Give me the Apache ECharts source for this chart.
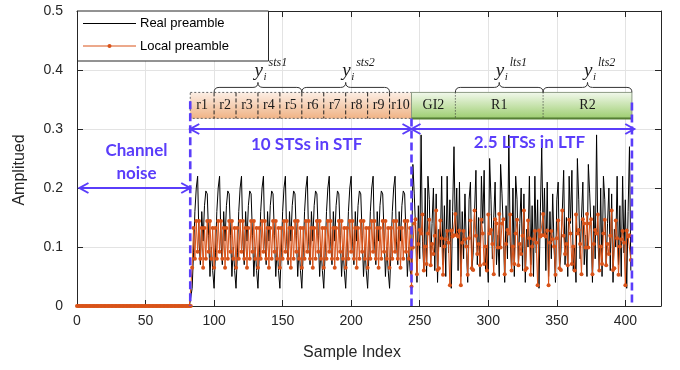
<!DOCTYPE html>
<html><head><meta charset="utf-8">
<script src="https://cdn.jsdelivr.net/npm/echarts@6/dist/echarts.min.js"></script>
<style>html,body{margin:0;padding:0;background:#fff}#c{width:680px;height:370px}</style>
</head><body><div id="c"></div>
<script>
// ---------- data ----------
const xTicks = [0, 50, 100, 150, 200, 250, 300, 350, 400];
const yTicks = [0, 0.1, 0.2, 0.3, 0.4, 0.5];
const seriesNames = ['Real preamble', 'Local preamble'];

const noiseStart = 0;
const noiseAmp = [
0,0,0,0,0,0,0,0,0,0, 0,0,0,0,0,0,0,0,0,0, 0,0,0,0,0,0,0,0,0,0, 0,0,0,0,0,0,0,0,0,0,
0,0,0,0,0,0,0,0,0,0, 0,0,0,0,0,0,0,0,0,0, 0,0,0,0,0,0,0,0,0,0, 0,0,0,0,0,0,0,0,0,0,
0,0,0,0];

const stsStart = 84;
const stsLocal = [
0.065,0.132,0.080,0.144,0.092,0.144,0.080,0.132,0.065,0.132,0.080,0.144,0.092,0.144,0.080,0.132,
0.065,0.132,0.080,0.144,0.092,0.144,0.080,0.132,0.065,0.132,0.080,0.144,0.092,0.144,0.080,0.132,
0.065,0.132,0.080,0.144,0.092,0.144,0.080,0.132,0.065,0.132,0.080,0.144,0.092,0.144,0.080,0.132,
0.065,0.132,0.080,0.144,0.092,0.144,0.080,0.132,0.065,0.132,0.080,0.144,0.092,0.144,0.080,0.132,
0.065,0.132,0.080,0.144,0.092,0.144,0.080,0.132,0.065,0.132,0.080,0.144,0.092,0.144,0.080,0.132,
0.065,0.132,0.080,0.144,0.092,0.144,0.080,0.132,0.065,0.132,0.080,0.144,0.092,0.144,0.080,0.132,
0.065,0.132,0.080,0.144,0.092,0.144,0.080,0.132,0.065,0.132,0.080,0.144,0.092,0.144,0.080,0.132,
0.065,0.132,0.080,0.144,0.092,0.144,0.080,0.132,0.065,0.132,0.080,0.144,0.092,0.144,0.080,0.132,
0.065,0.132,0.080,0.144,0.092,0.144,0.080,0.132,0.065,0.132,0.080,0.144,0.092,0.144,0.080,0.132,
0.065,0.132,0.080,0.144,0.092,0.144,0.080,0.132,0.065,0.132,0.080,0.144,0.092,0.144,0.080,0.132];
const stsReal = [
0.03,0.09,0.16,0.20,0.22,0.11,0.07,0.16,0.11,0.17,0.195,0.19,0.12,0.05,0.10,0.06,
0.03,0.09,0.16,0.20,0.22,0.11,0.07,0.16,0.11,0.17,0.195,0.19,0.12,0.05,0.10,0.06,
0.03,0.09,0.16,0.20,0.22,0.11,0.07,0.16,0.11,0.17,0.195,0.19,0.12,0.05,0.10,0.06,
0.03,0.09,0.16,0.20,0.22,0.11,0.07,0.16,0.11,0.17,0.195,0.19,0.12,0.05,0.10,0.06,
0.03,0.09,0.16,0.20,0.22,0.11,0.07,0.16,0.11,0.17,0.195,0.19,0.12,0.05,0.10,0.06,
0.03,0.09,0.16,0.20,0.22,0.11,0.07,0.16,0.11,0.17,0.195,0.19,0.12,0.05,0.10,0.06,
0.03,0.09,0.16,0.20,0.22,0.11,0.07,0.16,0.11,0.17,0.195,0.19,0.12,0.05,0.10,0.06,
0.03,0.09,0.16,0.20,0.22,0.11,0.07,0.16,0.11,0.17,0.195,0.19,0.12,0.05,0.10,0.06,
0.03,0.09,0.16,0.20,0.22,0.11,0.07,0.16,0.11,0.17,0.195,0.19,0.12,0.05,0.10,0.06,
0.03,0.09,0.16,0.20,0.22,0.11,0.07,0.16,0.11,0.17,0.195,0.19,0.12,0.05,0.10,0.06];

const ltsStart = 244;
const ltsLocal = [
0.033,0.099,0.140,0.147,0.054,0.105,0.129,0.123,0.155,0.060,0.101,0.071,0.123,0.146,0.069,0.105,
0.088,0.119,0.162,0.061,0.064,0.145,0.115,0.053,0.101,0.113,0.127,0.107,0.035,0.128,0.118,0.120,
0.156,0.120,0.118,0.128,0.035,0.107,0.127,0.113,0.101,0.053,0.115,0.145,0.064,0.061,0.162,0.119,
0.088,0.105,0.069,0.146,0.123,0.071,0.101,0.060,0.155,0.123,0.129,0.105,0.054,0.147,0.140,0.099,
0.156,0.099,0.140,0.147,0.054,0.105,0.129,0.123,0.155,0.060,0.101,0.071,0.123,0.146,0.069,0.105,
0.088,0.119,0.162,0.061,0.064,0.145,0.115,0.053,0.101,0.113,0.127,0.107,0.035,0.128,0.118,0.120,
0.156,0.120,0.118,0.128,0.035,0.107,0.127,0.113,0.101,0.053,0.115,0.145,0.064,0.061,0.162,0.119,
0.088,0.105,0.069,0.146,0.123,0.071,0.101,0.060,0.155,0.123,0.129,0.105,0.054,0.147,0.140,0.099,
0.156,0.099,0.140,0.147,0.054,0.105,0.129,0.123,0.155,0.060,0.101,0.071,0.123,0.146,0.069,0.105,
0.088,0.119,0.162,0.061,0.064,0.145,0.115,0.053,0.101,0.113,0.127,0.107,0.035,0.128,0.118,0.120,
0.078];
const ltsReal = [
0.05,0.24,0.19,0.13,0.04,0.17,0.08,0.29,0.11,0.06,0.20,0.05,0.22,0.18,0.07,0.14,
0.20,0.06,0.19,0.04,0.13,0.10,0.22,0.07,0.17,0.05,0.22,0.09,0.18,0.03,0.16,0.27,
0.12,0.20,0.06,0.21,0.05,0.16,0.08,0.19,0.10,0.04,0.18,0.21,0.06,0.09,0.16,0.23,
0.07,0.15,0.05,0.22,0.14,0.23,0.06,0.10,0.04,0.25,0.18,0.08,0.15,0.21,0.07,0.12,
0.05,0.24,0.19,0.13,0.04,0.17,0.08,0.29,0.11,0.06,0.20,0.05,0.22,0.18,0.07,0.14,
0.20,0.06,0.19,0.04,0.13,0.10,0.22,0.07,0.17,0.05,0.22,0.09,0.18,0.03,0.16,0.27,
0.12,0.20,0.06,0.21,0.05,0.16,0.08,0.19,0.10,0.04,0.18,0.21,0.06,0.09,0.16,0.23,
0.07,0.15,0.05,0.22,0.14,0.23,0.06,0.10,0.04,0.25,0.18,0.08,0.15,0.21,0.07,0.12,
0.05,0.24,0.19,0.13,0.04,0.17,0.08,0.29,0.11,0.06,0.20,0.05,0.22,0.18,0.07,0.14,
0.20,0.06,0.19,0.04,0.13,0.10,0.22,0.07,0.17,0.05,0.22,0.09,0.18,0.03,0.16,0.27,
0.06];

// annotation content
const stsLabels = ['r1','r2','r3','r4','r5','r6','r7','r8','r9','r10'];
const ltsLabels = ['GI2','R1','R2'];
const braceLabels = ['sts1','sts2','lts1','lts2'];
const regionTexts = ['Channel', 'noise', '10 STSs in STF', '2.5 LTSs in LTF'];
const axisNames = ['Sample Index', 'Amplitued'];

// ---------- layout / style constants ----------
const boundaries = [82.6, 244, 404.8];
const stsPeriod = 16;
const braceSpans = [[100, 164], [164, 228], [276, 340], [340, 404.8]];
const ltsDividers = [276, 340];
const ltsCenters = [260, 308, 372.4];
const boxTop = 0.362, boxBot = 0.318;
const blue = '#5a3dfa';
const orange = '#D95319';
const axisColor = '#262626';
const gridColor = '#e3e3e3';
const tickFont = 'Liberation Sans';

function pts(start, arr) { return arr.map((v, i) => [start + i, v]); }
const realData = [].concat(pts(noiseStart, noiseAmp), pts(stsStart, stsReal), pts(ltsStart, ltsReal));
const localData = [].concat(pts(noiseStart, noiseAmp), pts(stsStart, stsLocal), pts(ltsStart, ltsLocal));

const xMin = xTicks[0], xMax = 426, xInt = xTicks[1] - xTicks[0];
const yMin = yTicks[0], yMax = yTicks[yTicks.length - 1], yInt = 0.1;

function xAx(pos, labels) {
  return {
    type: 'value', position: pos, min: xMin, max: xMax, interval: xInt,
    axisLine: { show: true, onZero: false, lineStyle: { color: axisColor, width: 1 } },
    axisTick: { show: true, inside: true, length: 6, lineStyle: { color: axisColor } },
    axisLabel: { show: labels, color: axisColor, fontSize: 14, fontFamily: tickFont, margin: 8, showMaxLabel: false },
    splitLine: { show: labels, lineStyle: { color: gridColor, width: 1 } }
  };
}
function yAx(pos, labels) {
  return {
    type: 'value', position: pos, min: yMin, max: yMax, interval: yInt,
    axisLine: { show: true, onZero: false, lineStyle: { color: axisColor, width: 1 } },
    axisTick: { show: true, inside: true, length: 6, lineStyle: { color: axisColor } },
    axisLabel: { show: labels, color: axisColor, fontSize: 14, fontFamily: tickFont, margin: 14,
      formatter: v => (Math.abs(v) < 1e-9 ? '0' : (+v).toFixed(1)) },
    splitLine: { show: labels, lineStyle: { color: gridColor, width: 1 } }
  };
}

const option = {
  animation: false,
  backgroundColor: '#fff',
  grid: { left: 77, right: 19, top: 11, bottom: 64 },
  xAxis: [xAx('bottom', true), xAx('top', false)],
  yAxis: [yAx('left', true), yAx('right', false)],
  series: [
    { name: seriesNames[0], type: 'line', xAxisIndex: 0, yAxisIndex: 0, data: realData,
      symbol: 'none', showSymbol: false, clip: false, silent: true, z: 2,
      lineStyle: { color: '#000', width: 1 }, itemStyle: { color: '#000' } },
    { name: seriesNames[1], type: 'line', xAxisIndex: 0, yAxisIndex: 0, data: localData,
      symbol: 'circle', symbolSize: 4, showSymbol: true, showAllSymbol: true, clip: false, silent: true, z: 3,
      lineStyle: { color: orange, width: 1 }, itemStyle: { color: orange } }
  ]
};

const chart = echarts.init(document.getElementById('c'), null, { renderer: 'canvas' });
chart.setOption(option);

const P = (x, y) => chart.convertToPixel({ xAxisIndex: 0, yAxisIndex: 0 }, [x, y]);
const els = [];
const Z = 100;
function L(x1, y1, x2, y2, st, z) {
  els.push({ type: 'line', silent: true, z: z || Z + 1, shape: { x1, y1, x2, y2 },
    style: Object.assign({ stroke: '#000', lineWidth: 1, fill: null }, st) });
}
function Q(x1, y1, cx, cy, x2, y2) {
  els.push({ type: 'bezierCurve', silent: true, z: Z + 1, shape: { x1, y1, cpx1: cx, cpy1: cy, x2, y2 },
    style: { stroke: '#333', lineWidth: 1, fill: null } });
}
function T(x, y, text, st) {
  els.push({ type: 'text', silent: true, z: Z + 3, x, y,
    style: Object.assign({ text, fill: '#000', align: 'center', verticalAlign: 'middle' }, st) });
}

// legend box
const [gx0, gy0] = P(xMin, yMax);
els.push({ type: 'rect', silent: true, z: Z, shape: { x: gx0 + 0.5, y: gy0, width: 191, height: 50 },
  style: { fill: '#fff', stroke: axisColor, lineWidth: 1 } });
L(gx0 + 6, gy0 + 12.5, gx0 + 59, gy0 + 12.5, { stroke: '#000', lineWidth: 1 });
T(gx0 + 63, gy0 + 12.5, seriesNames[0], { align: 'left', font: '13px "Liberation Sans", Arial', fill: '#000' });
L(gx0 + 6, gy0 + 35, gx0 + 59, gy0 + 35, { stroke: orange, lineWidth: 1 });
els.push({ type: 'circle', silent: true, z: Z + 2, shape: { cx: gx0 + 32.5, cy: gy0 + 35, r: 2 }, style: { fill: orange } });
T(gx0 + 63, gy0 + 35, seriesNames[1], { align: 'left', font: '13px "Liberation Sans", Arial', fill: '#000' });

// STS box
{
  const [x0, yT] = P(boundaries[0], boxTop);
  const [x1, yB] = P(boundaries[1], boxBot);
  els.push({ type: 'rect', silent: true, z: Z, shape: { x: x0, y: yT, width: x1 - x0, height: yB - yT },
    style: { fill: new echarts.graphic.LinearGradient(0, 0, 0, 1, [{ offset: 0, color: '#fcefe6' }, { offset: 1, color: '#f0b284' }]),
      stroke: '#666', lineWidth: 1, lineDash: [2, 2] } });
  for (let k = 1; k < stsLabels.length; k++) {
    const [sx] = P(stsStart + stsPeriod * k, 0);
    L(sx, yT, sx, yB, { stroke: '#222', lineWidth: 1, lineDash: [4, 2] });
  }
  stsLabels.forEach((lab, k) => {
    const a = k === 0 ? boundaries[0] : stsStart + stsPeriod * k;
    const b = k === stsLabels.length - 1 ? boundaries[1] : stsStart + stsPeriod * (k + 1);
    const [cx, cy] = P((a + b) / 2, (boxTop + boxBot) / 2);
    T(cx, cy, lab, { font: '14px "Liberation Serif", serif', fill: '#1a1a1a' });
  });
}
// LTS box
{
  const [x0, yT] = P(boundaries[1], boxTop);
  const [x1, yB] = P(boundaries[2], boxBot);
  els.push({ type: 'rect', silent: true, z: Z, shape: { x: x0, y: yT, width: x1 - x0, height: yB - yT },
    style: { fill: new echarts.graphic.LinearGradient(0, 0, 0, 1, [{ offset: 0, color: '#f3f9ee' }, { offset: 1, color: '#9ccd6e' }]),
      stroke: '#8c9a84', lineWidth: 1 } });
  L(x0, yB, x1, yB, { stroke: '#557f33', lineWidth: 2 });
  ltsDividers.forEach(d => { const [sx] = P(d, 0); L(sx, yT, sx, yB, { stroke: '#333', lineWidth: 1, lineDash: [1, 2] }); });
  ltsLabels.forEach((lab, k) => { const [cx, cy] = P(ltsCenters[k], (boxTop + boxBot) / 2);
    T(cx, cy, lab, { font: '14px "Liberation Serif", serif', fill: '#1a1a1a' }); });
}
// braces + labels
braceSpans.forEach((sp, k) => {
  const [pa, yb] = P(sp[0], boxTop);
  const [pb] = P(sp[1], boxTop);
  const ym = yb - 5, yt = yb - 10, r = 5, xm = (pa + pb) / 2;
  Q(pa, yb, pa, ym, pa + r, ym);
  L(pa + r, ym, xm - r, ym, { stroke: '#333' });
  Q(xm - r, ym, xm, ym, xm, yt);
  Q(xm, yt, xm, ym, xm + r, ym);
  L(xm + r, ym, pb - r, ym, { stroke: '#333' });
  Q(pb - r, ym, pb, ym, pb, yb);
  T(xm - 3.5, yt - 11, 'y', { align: 'left', font: 'italic 19px "Liberation Serif", serif', fill: '#1a1a1a' });
  T(xm + 5.5, yt - 5.5, 'i', { align: 'left', font: 'italic 11px "Liberation Serif", serif', fill: '#1a1a1a' });
  T(xm + 10.5, yt - 19.5, braceLabels[k], { align: 'left', font: 'italic 12px "Liberation Serif", serif', fill: '#1a1a1a' });
});
// dashed boundaries
const dashTop = [0.347, 0.318, 0.345];
boundaries.forEach((b, i) => {
  const [x, yt] = P(b, dashTop[i]); const [, yb] = P(b, 0);
  L(x, yt, x, yb, { stroke: blue, lineWidth: 2.6, lineDash: [8, 4] }, Z + 2);
});
// arrows
function head(x, y, dir) {
  els.push({ type: 'polyline', silent: true, z: Z + 2, shape: { points: [[x + dir * 9, y - 5], [x, y], [x + dir * 9, y + 5]] },
    style: { stroke: blue, lineWidth: 2, fill: null } });
}
function arrow(xa, xb, yv) {
  const [pa, py] = P(xa, yv); const [pb] = P(xb, yv);
  L(pa, py, pb, py, { stroke: blue, lineWidth: 2 }, Z + 2);
  head(pa, py, 1); head(pb, py, -1);
}
arrow(1.8, boundaries[0], 0.2);
arrow(boundaries[0], boundaries[1], 0.3);
arrow(boundaries[1], 406.5, 0.3);
// region texts
const bf = 'bold 17px Lato, "Open Sans", sans-serif';
{ let [x, y] = P(43.4, 0.264); T(x, y, regionTexts[0], { font: bf, fill: blue });
  [x, y] = P(43.4, 0.225); T(x, y, regionTexts[1], { font: bf, fill: blue });
  [x, y] = P(167.5, 0.274); T(x, y, regionTexts[2], { font: bf, fill: blue });
  [x, y] = P(330, 0.277); T(x, y, regionTexts[3], { font: bf, fill: blue }); }
// axis names
T(352, 353, axisNames[0], { font: '16px "Liberation Sans", Arial', fill: axisColor });
els.push({ type: 'text', silent: true, z: Z + 3, x: 20, y: 170, rotation: Math.PI / 2,
  style: { text: axisNames[1], fill: axisColor, align: 'center', verticalAlign: 'middle', font: '16px "Liberation Sans", Arial' } });

chart.setOption({ graphic: { elements: els } });
</script>
</body></html>
